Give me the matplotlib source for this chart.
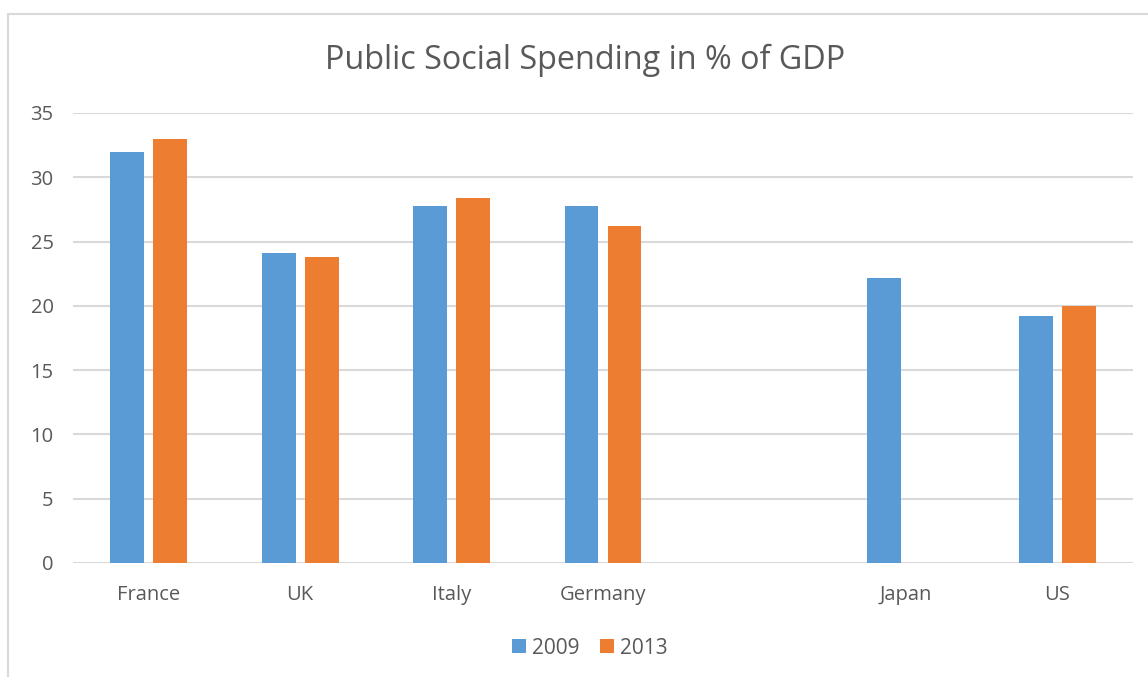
import numpy as np
import matplotlib.pyplot as plt
from matplotlib.patches import Rectangle

countries = ["France", "UK", "Italy", "Germany", "", "Japan", "US"]
spend_2009 = [32.0, 24.1, 27.8, 27.8, np.nan, 22.2, 19.2]
spend_2013 = [33.0, 23.8, 28.4, 26.2, np.nan, np.nan, 20.0]

blue = "#5B9BD5"
orange = "#ED7D31"
grey_text = "#595959"
grid_col = "#D9D9D9"

plt.rcParams['font.family'] = ['Open Sans', 'DejaVu Sans']

fig = plt.figure(figsize=(11.48, 6.77), dpi=100)
ax = fig.add_axes([73/1148, 1-563/677, (1133-73)/1148, (563-113)/677])

x = np.arange(len(countries))
w = 0.224
off = 0.142
ax.bar(x - off, spend_2009, w, color=blue, label="2009", zorder=3)
ax.bar(x + off, spend_2013, w, color=orange, label="2013", zorder=3)

ax.set_xlim(-0.5, len(countries) - 0.5)
ax.set_ylim(0, 35)
ax.set_yticks(range(0, 36, 5))
ax.set_xticks(x)
ax.set_xticklabels(countries)
ax.tick_params(axis='both', length=0, labelsize=14.5, colors=grey_text)
ax.tick_params(axis='y', pad=14)
ax.tick_params(axis='x', pad=16)
ax.grid(axis='y', color=grid_col, linewidth=1.5, zorder=0)
for s in ax.spines.values():
    s.set_visible(False)

fig.text(0.510, 1-60/677, "Public Social Spending in % of GDP", ha='center', va='center',
         fontsize=23.3, color=grey_text)

fig.legend(loc='center', bbox_to_anchor=(590/1148, 1-648/677), ncol=2, frameon=False,
           fontsize=15, labelcolor=grey_text, handlelength=0.65, handleheight=0.65,
           handletextpad=0.3, columnspacing=1.0)

fig.patches.append(Rectangle((8/1148, -0.05), 1.2, 1-14/677+0.05, transform=fig.transFigure,
                             fill=False, edgecolor=grid_col, linewidth=1.5, zorder=0))

fig.savefig("out.png", dpi=100)
